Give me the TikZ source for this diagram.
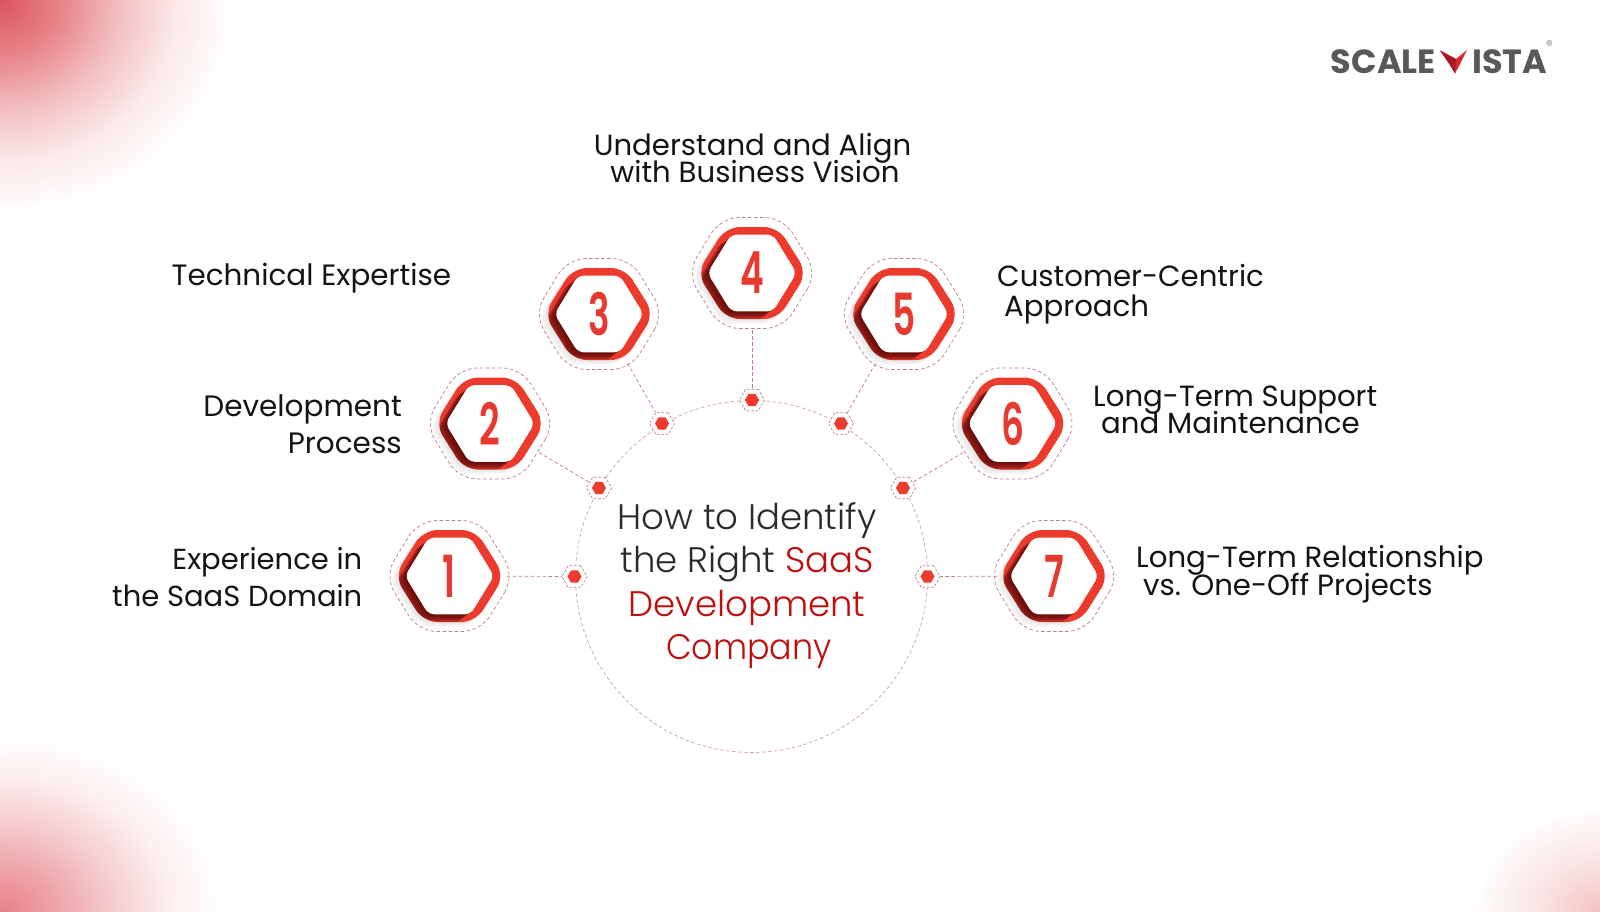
\documentclass[tikz,border=0pt]{standalone}
\usepackage{fontspec}
\usetikzlibrary{shapes.geometric}
\setmainfont{Poppins}
\newfontfamily\plight{Poppins}[UprightFont=* Light]
\newfontfamily\psemi{Poppins}[UprightFont=* SemiBold]
\newfontfamily\pbold{Poppins}[UprightFont=* Bold]
\newcommand{\tightlines}{\lineskiplimit=-100pt\relax}
\definecolor{hexred}{HTML}{EC3A2D}
\definecolor{hexdark}{HTML}{4A0505}
\definecolor{numred}{HTML}{E8392E}
\definecolor{linecol}{HTML}{C07C84}
\definecolor{circol}{HTML}{D0A0A4}
\definecolor{txt}{HTML}{141414}
\definecolor{midtxt}{HTML}{2A2A2A}
\definecolor{midred}{HTML}{C00D0D}
\definecolor{logogray}{HTML}{58595B}
\definecolor{logored}{HTML}{DC2A2E}
\definecolor{logodark}{HTML}{A81820}
\pgfdeclareradialshading{cornerA}{\pgfpoint{0bp}{0bp}}{rgb(0bp)=(0.86,0.33,0.38);rgb(6bp)=(0.90,0.50,0.52);rgb(12.5bp)=(0.95,0.74,0.75);rgb(19bp)=(0.985,0.92,0.92);rgb(25bp)=(1,1,1);rgb(50bp)=(1,1,1)}
\pgfdeclareradialshading{cornerB}{\pgfpoint{0bp}{0bp}}{rgb(0bp)=(0.91,0.50,0.53);rgb(6bp)=(0.93,0.64,0.66);rgb(12.5bp)=(0.96,0.80,0.81);rgb(19bp)=(0.99,0.94,0.94);rgb(25bp)=(1,1,1);rgb(50bp)=(1,1,1)}
\pgfdeclareradialshading{cornerC}{\pgfpoint{0bp}{0bp}}{rgb(0bp)=(0.96,0.76,0.76);rgb(12.5bp)=(0.98,0.90,0.90);rgb(25bp)=(1,1,1);rgb(50bp)=(1,1,1)}
\tikzset{
  x=1pt,y=-1pt,
  hexnum/.style={inner sep=0pt,text=numred,font=\psemi\fontsize{58}{58}\selectfont,circle,minimum size=114pt},
  ring/.style={regular polygon,regular polygon sides=6,minimum size=25pt,inner sep=0pt,draw=linecol,fill=white,line width=.7pt,dash pattern=on 2.5pt off 1.8pt},
  dotcore/.style={regular polygon,regular polygon sides=6,minimum size=14pt,inner sep=0pt,fill=hexred},
  conn/.style={draw=linecol,line width=.7pt,dash pattern=on 3.5pt off 2.5pt},
  lab/.style={inner sep=0pt,text=txt,font=\fontsize{#1}{37}\selectfont\tightlines},
  lab2/.style={inner sep=0pt,text=txt,font=\fontsize{29.2}{#1}\selectfont\tightlines},
  mid/.style={inner sep=0pt,text=midtxt,align=center,font=\plight\fontsize{35.5}{43.5}\selectfont\tightlines},
  logotxt/.style={inner sep=0pt,text=logogray,font=\pbold\fontsize{33.5}{34}\selectfont},
}
\newcommand{\hexpath}[3]{(#1,0)--(#2,#3)--(-#2,#3)--(-#1,0)--(-#2,-#3)--(#2,-#3)--cycle}
\newcommand{\badge}[2]{%
  \begin{scope}[shift={(#1,#2)}]
    \foreach \i in {4,3,2,1}{\fill[black,opacity=.025,rounded corners=12pt,shift={(-\i*1.6,\i*1.3)}] \hexpath{55}{26}{46};}
    \draw[linecol,line width=.7pt,dash pattern=on 3.5pt off 2.5pt,rounded corners=18pt] \hexpath{65}{31}{55.5};
    \fill[hexred,rounded corners=14pt] \hexpath{55}{26}{46};
    \begin{scope}
      \clip[rounded corners=14pt] \hexpath{55}{26}{46};
      \foreach \i in {7,6,5,4,3,2,1}{\fill[hexdark,opacity=.2,rounded corners=6pt,shift={(-\i*1.5,\i*1.15)}] \hexpath{44.5}{21}{38.3};}
    \end{scope}
    \fill[white,rounded corners=6pt] \hexpath{44.5}{21}{38.3};
  \end{scope}
}
\begin{document}
\begin{tikzpicture}
\useasboundingbox (0,0) rectangle (1600,912);
\begin{scope}
\clip (0,0) rectangle (1600,912);
\fill[white] (0,0) rectangle (1600,912);
\shade[shading=cornerA] (-235,-215) rectangle (235,215);
\shade[shading=cornerB] (-225,732) rectangle (225,1092);
\shade[shading=cornerC] (1470,805) rectangle (1730,1019);
\end{scope}
% central circle
\coordinate (cc) at (751.5,576.5);
\draw[circol,line width=.7pt,dash pattern=on 3.5pt off 2.5pt] (cc) circle[radius=176pt];
% badges
\badge{449.5}{576}
\badge{490}{423.5}
\badge{599}{314}
\badge{752}{273}
\badge{904}{314}
\badge{1012.5}{423.5}
\badge{1054}{576}
\node[hexnum] (h1) at (449.5,576) {\scalebox{.62}[1]{1}};
\node[hexnum] (h2) at (490,423.5) {\scalebox{.62}[1]{2}};
\node[hexnum] (h3) at (599,314) {\scalebox{.62}[1]{3}};
\node[hexnum] (h4) at (752,273) {\scalebox{.62}[1]{4}};
\node[hexnum] (h5) at (904,314) {\scalebox{.62}[1]{5}};
\node[hexnum] (h6) at (1012.5,423.5) {\scalebox{.62}[1]{6}};
\node[hexnum] (h7) at (1054,576) {\scalebox{.62}[1]{7}};
% dots
\node[ring] (d1) at (574.5,576.5) {};
\node[ring] (d2) at (599,488) {};
\node[ring] (d3) at (662,423.5) {};
\node[ring] (d4) at (752,400) {};
\node[ring] (d5) at (841,423.5) {};
\node[ring] (d6) at (903,488) {};
\node[ring] (d7) at (927.5,576.5) {};
\foreach \k in {1,...,7}{
  \node[dotcore] (c\k) at (d\k) {};
  \draw[conn] (h\k) -- (d\k);
}
% labels
\node[lab=29.4,anchor=west] (l3) at (171.5,278) {Technical Expertise};
\node[lab=29,anchor=east,align=right] (l1) at (362.5,577) {Experience in\\the SaaS Domain};
\node[lab=29.5,anchor=east,align=right] (l2) at (402,424) {Development\\Process};
\node[lab2=27,anchor=center,align=center] (l4) at (752.5,158.5) {Understand and Align\\\hspace*{5pt}with Business Vision};
\node[lab2=30.5,anchor=west,align=left] (l5) at (997,294) {Customer-Centric\\\hspace*{7pt}Approach};
\node[lab2=27,anchor=west,align=left] (l6) at (1093,410) {Long-Term Support\\\hspace*{8pt}and Maintenance};
\node[lab2=27.5,anchor=west,align=left] (l7) at (1136,574) {Long-Term Relationship\\\hspace*{7pt}vs. One-Off Projects};
\node[mid] (title) at (747,585.5) {How to Identify\\the Right \textcolor{midred}{SaaS}\\\textcolor{midred}{Development}\\\hspace*{4pt}\textcolor{midred}{\scalebox{.94}[1]{Company}}};
% logo
\node[logotxt,anchor=base east] (logoA) at (1436,74) {SCALE};
\node[logotxt,anchor=base west] (logoB) at (1472,74) {ISTA};
\fill[logored] (1440,50.5) -- (1456,59) -- (1467,50) -- (1460,64) -- (1455,73.5) -- (1450,65) -- cycle;
\fill[logodark] (1440,50.5) -- (1456,59) -- (1455,73.5) -- (1450,65) -- cycle;
\node[inner sep=0pt,text=logogray!70,font=\fontsize{14}{14}\selectfont] (logoR) at (1549.5,46) {®};
\end{tikzpicture}
\end{document}
